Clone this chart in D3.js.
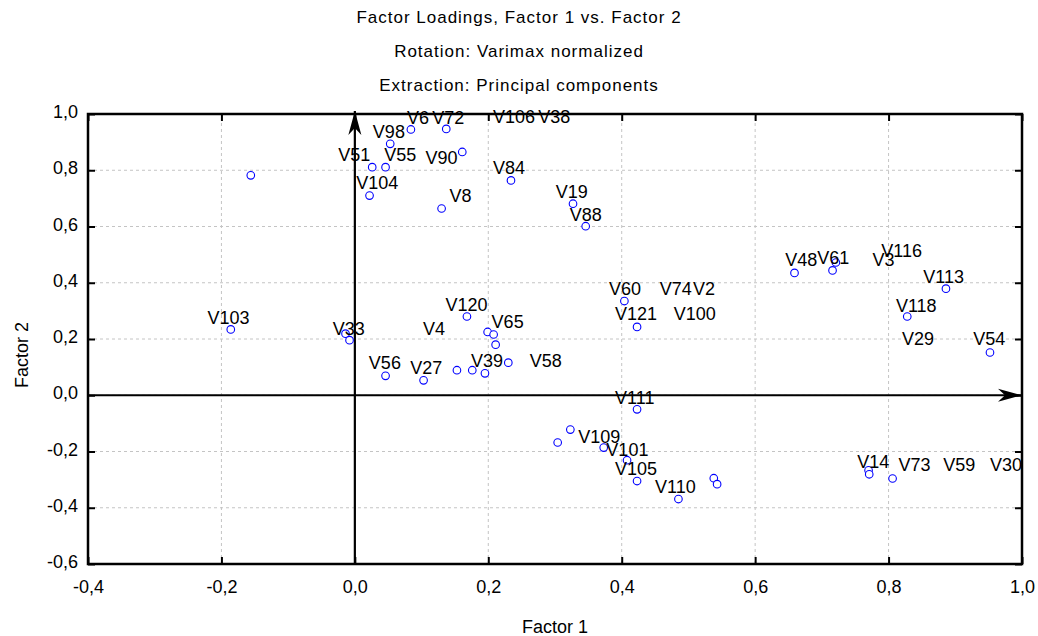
<!DOCTYPE html>
<html>
<head>
<meta charset="utf-8">
<script src="https://cdn.jsdelivr.net/npm/d3@7"></script>
<style>
  body { margin: 0; background: #fff; }
  svg { display: block; font-family: Arial, "Liberation Sans", sans-serif; }
</style>
</head>
<body>
<svg id="chart" width="1038" height="636"></svg>
<script>
// factor loadings (Factor 1, Factor 2) for each plotted variable
const factor1 = [-0.156, 0.084, 0.137, 0.053, 0.161, 0.026, 0.046, 0.022, 0.130, 0.234, 0.327, 0.346,
    -0.186, -0.014, -0.008, 0.168, 0.199, 0.208, 0.211, 0.230, 0.046, 0.103, 0.153, 0.176, 0.195,
    0.404, 0.423, 0.659, 0.721, 0.716, 0.886, 0.828, 0.952,
    0.423, 0.323, 0.304, 0.373, 0.408, 0.423, 0.485, 0.538, 0.543, 0.770, 0.771, 0.806];
const factor2 = [0.782, 0.945, 0.947, 0.894, 0.865, 0.811, 0.811, 0.710, 0.664, 0.764, 0.681, 0.601,
    0.234, 0.219, 0.196, 0.280, 0.225, 0.216, 0.180, 0.116, 0.069, 0.053, 0.089, 0.089, 0.078,
    0.335, 0.243, 0.435, 0.472, 0.444, 0.379, 0.280, 0.152,
    -0.050, -0.122, -0.168, -0.186, -0.231, -0.305, -0.369, -0.295, -0.316, -0.267, -0.281, -0.296];

// variable names and where the plot put them (in loading units)
const labelNames = ['V6', 'V72', 'V106', 'V38', 'V98', 'V51', 'V55', 'V90', 'V84', 'V104', 'V8', 'V19', 'V88',
    'V103', 'V33', 'V120', 'V4', 'V65', 'V56', 'V27', 'V39', 'V58',
    'V60', 'V74', 'V2', 'V121', 'V100', 'V48', 'V61', 'V3', 'V116', 'V113', 'V118', 'V29', 'V54',
    'V111', 'V109', 'V101', 'V105', 'V110', 'V14', 'V73', 'V59', 'V30'];
const labelX = [0.078, 0.116, 0.207, 0.275, 0.027, -0.025, 0.044, 0.106, 0.207, 0.002, 0.142, 0.301, 0.322,
    -0.221, -0.033, 0.136, 0.102, 0.205, 0.021, 0.083, 0.174, 0.262,
    0.381, 0.457, 0.507, 0.390, 0.478, 0.645, 0.693, 0.776, 0.789, 0.852, 0.811, 0.820, 0.927,
    0.390, 0.335, 0.377, 0.390, 0.450, 0.753, 0.815, 0.882, 0.952];
const labelY = [0.964, 0.964, 0.968, 0.967, 0.913, 0.833, 0.833, 0.824, 0.786, 0.735, 0.687, 0.703, 0.620,
    0.252, 0.213, 0.300, 0.213, 0.239, 0.092, 0.075, 0.099, 0.099,
    0.356, 0.356, 0.356, 0.267, 0.267, 0.460, 0.468, 0.459, 0.492, 0.399, 0.296, 0.178, 0.178,
    -0.030, -0.170, -0.216, -0.284, -0.346, -0.259, -0.270, -0.270, -0.270];

const xTicks = [-0.4, -0.2, 0.0, 0.2, 0.4, 0.6, 0.8, 1.0];
const yTicks = [-0.6, -0.4, -0.2, 0.0, 0.2, 0.4, 0.6, 0.8, 1.0];
const titleLines = ['Factor Loadings, Factor 1 vs. Factor 2', 'Rotation: Varimax normalized', 'Extraction: Principal components'];

const W = 1038, H = 636;
const m = { top: 114, right: 16, bottom: 72, left: 88 };
const svg = d3.select('#chart');

const x = d3.scaleLinear().domain([-0.4, 1.0]).range([m.left, W - m.right]);
const y = d3.scaleLinear().domain([-0.6, 1.0]).range([H - m.bottom, m.top]);

const loc = d3.formatLocale({ decimal: ',', thousands: '.', grouping: [3], currency: ['', ''], minus: '-' });
const fmt = loc.format('.1f');

// titles
titleLines.forEach((t, i) => {
    svg.append('text')
        .attr('x', W / 2).attr('y', 23 + i * 34)
        .attr('text-anchor', 'middle')
        .attr('font-size', 17).attr('letter-spacing', 1).attr('fill', '#000')
        .text(t);
});

// grid
const grid = svg.append('g').attr('stroke', '#c4c4c4').attr('stroke-dasharray', '3,3').attr('stroke-width', 1);
grid.selectAll('.gx').data(xTicks).join('line')
    .attr('x1', d => x(d)).attr('x2', d => x(d))
    .attr('y1', y.range()[0]).attr('y2', y.range()[1]);
grid.selectAll('.gy').data(yTicks).join('line')
    .attr('y1', d => y(d)).attr('y2', d => y(d))
    .attr('x1', x.range()[0]).attr('x2', x.range()[1]);

// axes (ticks point inward)
const styleAxis = g => {
    g.select('.domain').remove();
    g.selectAll('.tick line').attr('stroke', '#000').attr('stroke-width', 2);
    g.selectAll('text').attr('font-size', 18).attr('fill', '#000').attr('font-family', null);
};
svg.append('g').attr('transform', `translate(0,${y(-0.6)})`)
    .call(d3.axisBottom(x).tickValues(xTicks).tickFormat(fmt).tickSizeInner(-7).tickSizeOuter(0).tickPadding(16))
    .call(styleAxis);
svg.append('g').attr('transform', `translate(0,${y(1.0)})`)
    .call(d3.axisTop(x).tickValues(xTicks).tickFormat('').tickSizeInner(-7).tickSizeOuter(0))
    .call(styleAxis);
svg.append('g').attr('transform', `translate(${x(-0.4)},0)`)
    .call(d3.axisLeft(y).tickValues(yTicks).tickFormat(fmt).tickSizeInner(-7).tickSizeOuter(0).tickPadding(10))
    .call(styleAxis)
    .selectAll('text').attr('dy', '0.2em');
svg.append('g').attr('transform', `translate(${x(1.0)},0)`)
    .call(d3.axisRight(y).tickValues(yTicks).tickFormat('').tickSizeInner(-7).tickSizeOuter(0))
    .call(styleAxis);

// axis titles
svg.append('text')
    .attr('x', (x.range()[0] + x.range()[1]) / 2).attr('y', 633)
    .attr('text-anchor', 'middle').attr('font-size', 18)
    .text('Factor 1');
svg.append('text')
    .attr('transform', `translate(28,${(y.range()[0] + y.range()[1]) / 2 + 16}) rotate(-90)`)
    .attr('text-anchor', 'middle').attr('font-size', 18)
    .text('Factor 2');

// arrowheads for the zero axes
svg.append('defs').append('marker')
    .attr('id', 'arrow')
    .attr('viewBox', '-24 -8 26 16')
    .attr('refX', 0).attr('refY', 0)
    .attr('markerWidth', 26).attr('markerHeight', 16)
    .attr('markerUnits', 'userSpaceOnUse')
    .attr('orient', 'auto')
    .append('path')
    .attr('d', 'M0,0L-24,-6.5L-17,0L-24,6.5Z')
    .attr('fill', '#000');

svg.append('line')
    .attr('x1', x(0)).attr('x2', x(0)).attr('y1', y(-0.6)).attr('y2', y(1.0) - 3)
    .attr('stroke', '#000').attr('stroke-width', 2.2).attr('marker-end', 'url(#arrow)');
svg.append('line')
    .attr('x1', x(-0.4)).attr('x2', x(1.0)).attr('y1', y(0)).attr('y2', y(0))
    .attr('stroke', '#000').attr('stroke-width', 2.2).attr('marker-end', 'url(#arrow)');

// points
svg.append('g').selectAll('circle')
    .data(factor1.map((f, i) => [f, factor2[i]]))
    .join('circle')
    .attr('cx', d => x(d[0])).attr('cy', d => y(d[1]))
    .attr('r', 3.8)
    .attr('fill', '#fff').attr('stroke', '#0000ff').attr('stroke-width', 1.1);

// variable labels
svg.append('g').selectAll('text')
    .data(labelNames)
    .join('text')
    .attr('x', (_, i) => x(labelX[i])).attr('y', (_, i) => y(labelY[i]))
    .attr('font-size', 18).attr('fill', '#000')
    .text(d => d);

// plot frame
svg.append('rect')
    .attr('x', x(-0.4)).attr('y', y(1.0))
    .attr('width', x(1.0) - x(-0.4)).attr('height', y(-0.6) - y(1.0))
    .attr('fill', 'none').attr('stroke', '#000').attr('stroke-width', 2.5);
</script>
</body>
</html>
